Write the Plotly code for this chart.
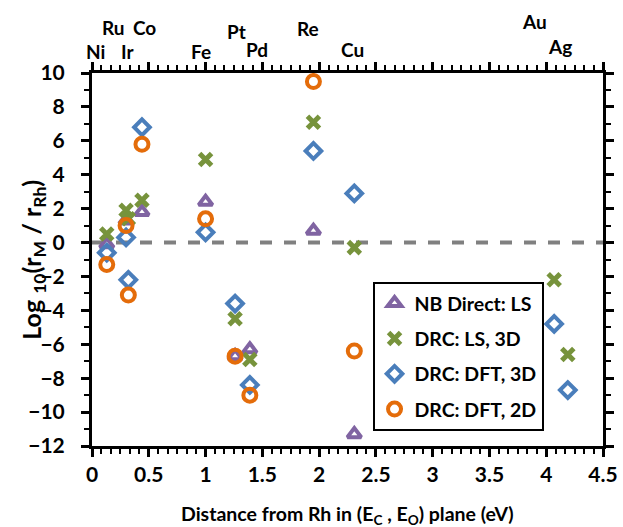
import plotly.graph_objects as go

# ---- data ----
elements = ["Ni", "Ru", "Ir", "Co", "Fe", "Pt", "Pd", "Re", "Cu", "Au", "Ag"]
distance = [0.13, 0.30, 0.32, 0.44, 1.00, 1.26, 1.39, 1.95, 2.31, 4.07, 4.19]

nb_direct_ls = [-0.1, 1.3, None, 1.8, 2.4, -6.7, -6.3, 0.7, -11.3, None, None]
drc_ls_3d = [0.5, 1.9, 1.4, 2.5, 4.9, -4.5, -6.9, 7.1, -0.3, -2.2, -6.6]
drc_dft_3d = [-0.6, 0.3, -2.2, 6.8, 0.6, -3.6, -8.4, 5.4, 2.9, -4.8, -8.7]
drc_dft_2d = [-1.3, 1.0, -3.1, 5.8, 1.4, -6.7, -9.0, 9.5, -6.4, None, None]

series_names = ["NB Direct: LS", "DRC: LS, 3D", "DRC: DFT, 3D", "DRC: DFT, 2D"]
series_values = [nb_direct_ls, drc_ls_3d, drc_dft_3d, drc_dft_2d]

# element labels on top of chart
label_names = ["Ni", "Ru", "Co", "Ir", "Fe", "Pt", "Pd", "Re", "Cu", "Au", "Ag"]
label_x = [0.03, 0.19, 0.46, 0.31, 0.96, 1.27, 1.45, 1.90, 2.29, 3.90, 4.12]
label_y = [1.058, 1.121, 1.121, 1.058, 1.058, 1.110, 1.064, 1.118, 1.064, 1.137, 1.070]

x_ticks = [0, 0.5, 1, 1.5, 2, 2.5, 3, 3.5, 4, 4.5]
x_tick_text = ["0", "0.5", "1", "1.5", "2", "2.5", "3", "3.5", "4", "4.5"]
y_ticks = list(range(-12, 11, 2))

x_title = "Distance from Rh in (E<sub>C</sub> , E<sub>O</sub>) plane (eV)"
y_title = "Log <sub>10</sub>(r<sub>M</sub> / r<sub>Rh</sub>)"

# ---- styles ----
FONT = "Lato"
colors = ["#8064A2", "#77933C", "#4A7EBB", "#E46C0A"]
symbols = ["triangle-up-open", "x-thin-open", "diamond-open", "circle-open"]
sizes = [12, 12, 12, 13]
widths = [4, 5, 4, 4]
TICK = "#000"

fig = go.Figure()
for i, (name, vals) in enumerate(zip(series_names, series_values)):
    xs = [d for d, v in zip(distance, vals) if v is not None]
    ys = [v for v in vals if v is not None]
    fig.add_trace(go.Scatter(
        x=xs, y=ys, mode="markers", name=name, legendgroup=name,
        marker=dict(symbol=symbols[i], size=sizes[i], color=colors[i],
                    line=dict(color=colors[i], width=widths[i])),
    ))

fig.add_shape(type="line", xref="paper", yref="y", x0=0, x1=1, y0=0, y1=0,
              line=dict(color="#808080", width=4, dash="dash"), layer="below")

for nm, lx, ly in zip(label_names, label_x, label_y):
    fig.add_annotation(x=lx, y=ly, xref="x", yref="paper",
                       text=f"<b>{nm}</b>", showarrow=False,
                       font=dict(family=FONT, size=19, color="#000"),
                       xanchor="center", yanchor="middle")

fig.add_annotation(x=0.5, y=-0.185, xref="paper", yref="paper", text=f"<b>{x_title}</b>",
                   showarrow=False, font=dict(family=FONT, size=19.5, color="#000"),
                   xanchor="center", yanchor="middle")
fig.add_annotation(x=-0.117, y=0.5, xref="paper", yref="paper", text=f"<b>{y_title}</b>",
                   showarrow=False, textangle=-90, font=dict(family=FONT, size=25, color="#000"),
                   xanchor="center", yanchor="middle")

axis_common = dict(
    showline=True, linecolor="#000", linewidth=3, mirror="ticks",
    ticks="outside", tickwidth=2.5, tickcolor=TICK,
    showgrid=False, zeroline=False, automargin=False,
    tickfont=dict(family=FONT, size=21, color="#000", weight="bold"),
)

fig.update_xaxes(range=[0, 4.5], tickvals=x_ticks, ticktext=x_tick_text, ticklen=8,
                 minor=dict(ticks="outside", dtick=0.0833333, ticklen=5, tickwidth=2, tickcolor=TICK),
                 **axis_common)
fig.update_yaxes(range=[-12, 10], tickvals=y_ticks, ticklen=8, ticklabelstandoff=12,
                 minor=dict(ticks="outside", dtick=1, ticklen=5, tickwidth=2, tickcolor=TICK),
                 **axis_common)

fig.update_layout(
    width=623, height=527,
    margin=dict(l=92, r=20, t=73, b=81),
    paper_bgcolor="white", plot_bgcolor="white",
    showlegend=True,
    legend=dict(x=0.549, y=0.44, xanchor="left", yanchor="top",
                bordercolor="#000", borderwidth=2, bgcolor="white",
                tracegroupgap=7, traceorder="grouped", itemwidth=30,
                font=dict(family=FONT, size=19.5, color="#000", weight="bold")),
)

fig.write_html("out.html")
